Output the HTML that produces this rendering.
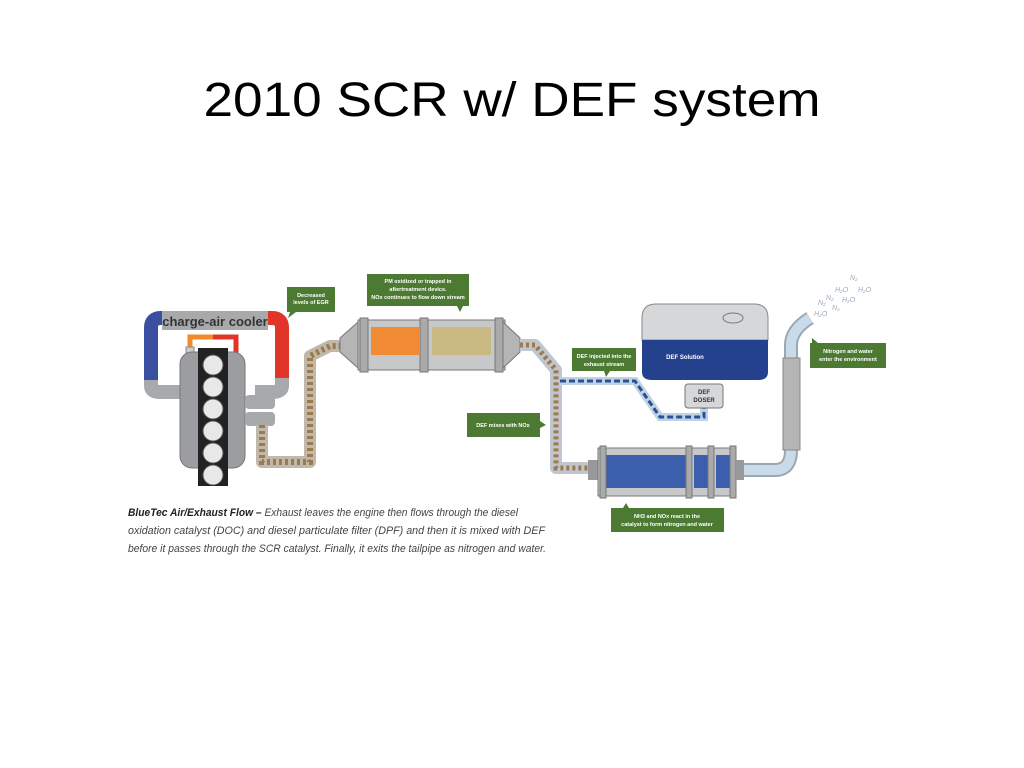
<!DOCTYPE html>
<html><head><meta charset="utf-8"><style>
html,body{margin:0;padding:0;background:#fff;width:1024px;height:768px;overflow:hidden}
svg{display:block}
</style></head><body>
<svg width="1024" height="768" viewBox="0 0 1024 768" font-family="Liberation Sans, sans-serif">
<text x="512" y="116" font-size="48" text-anchor="middle" fill="#000" textLength="617" lengthAdjust="spacingAndGlyphs">2010 SCR w/ DEF system</text>

<!-- charge air cooler -->
<path d="M151 384 V328 Q151 318 161 318 H272 Q282 318 282 328 V384" fill="none" stroke="#a7a9ab" stroke-width="14"/>
<path d="M151 384 V328 Q151 318 161 318 H165" fill="none" stroke="#3b4fa0" stroke-width="14"/>
<path d="M268 318 H272 Q282 318 282 328 V380" fill="none" stroke="#e2352a" stroke-width="14"/>
<rect x="162" y="311" width="106" height="19" fill="#a7a9ab"/>
<text x="215" y="326" font-size="13" font-weight="bold" text-anchor="middle" fill="#333">charge-air cooler</text>
<path d="M151 380 V386 Q151 392 160 392 H190" fill="none" stroke="#a7a9ab" stroke-width="14"/>
<path d="M282 378 V386 Q282 392 272 392 H255" fill="none" stroke="#a7a9ab" stroke-width="14"/>
<!-- EGR -->
<path d="M190 355 V337 H236 V355" fill="none" stroke="#f08a2c" stroke-width="5"/>
<path d="M213 337 H236 V355" fill="none" stroke="#e2352a" stroke-width="5"/>
<rect x="186" y="347" width="8" height="8" fill="#ccc" stroke="#888"/>
<!-- engine -->
<rect x="180" y="352" width="65" height="116" rx="12" fill="#9b9da0" stroke="#777"/>
<rect x="198" y="348" width="30" height="138" fill="#222"/>
<g fill="#e8e8e8" stroke="#555">
<circle cx="213" cy="365" r="10"/><circle cx="213" cy="387" r="10"/><circle cx="213" cy="409" r="10"/>
<circle cx="213" cy="431" r="10"/><circle cx="213" cy="453" r="10"/><circle cx="213" cy="475" r="10"/>
</g>
<rect x="245" y="395" width="30" height="14" rx="4" fill="#a7a9ab"/>
<rect x="245" y="412" width="30" height="14" rx="4" fill="#a7a9ab"/>
<!-- exhaust pipe to DOC -->
<path d="M262 425 V462 H310 V356 L330 346 H340" fill="none" stroke="#bfb8ab" stroke-width="12" stroke-linejoin="round"/>
<path d="M262 425 V462 H310 V356 L330 346 H340" fill="none" stroke="#9c7a4c" stroke-width="6" stroke-dasharray="3 3"/>
<!-- DOC/DPF -->
<polygon points="340,338 358,322 358,368 340,352" fill="#b5b5b5" stroke="#777"/>
<rect x="358" y="320" width="147" height="50" fill="#c7c8ca" stroke="#777"/>
<rect x="371" y="327" width="48" height="28" fill="#f08a34"/>
<rect x="432" y="327" width="59" height="28" fill="#c9b982"/>
<rect x="420" y="318" width="8" height="54" fill="#aaa" stroke="#777"/>
<rect x="360" y="318" width="8" height="54" fill="#aaa" stroke="#777"/>
<rect x="495" y="318" width="8" height="54" fill="#aaa" stroke="#777"/>
<polygon points="503,322 520,338 520,352 503,368" fill="#b5b5b5" stroke="#777"/>
<!-- DPF to SCR pipe -->
<path d="M520 345 H535 L556 370 V468 H590" fill="none" stroke="#bfc6cf" stroke-width="12" stroke-linejoin="round"/>
<path d="M520 345 H535 L556 370 V468 H590" fill="none" stroke="#9c7a4c" stroke-width="5" stroke-dasharray="3 3"/>
<!-- DEF line -->
<path d="M560 381 H635 L660 417 H704 V405" fill="none" stroke="#bfd3e6" stroke-width="8"/>
<path d="M560 381 H635 L660 417 H704 V405" fill="none" stroke="#2e4f94" stroke-width="3" stroke-dasharray="6 3"/>
<!-- SCR -->
<rect x="588" y="460" width="12" height="20" fill="#999"/>
<rect x="598" y="448" width="138" height="48" fill="#c7c8ca" stroke="#777"/>
<rect x="606" y="455" width="80" height="33" fill="#3b5fad"/>
<rect x="694" y="455" width="16" height="33" fill="#3b5fad"/>
<rect x="716" y="455" width="14" height="33" fill="#3b5fad"/>
<rect x="600" y="446" width="6" height="52" fill="#aaa" stroke="#777"/>
<rect x="686" y="446" width="6" height="52" fill="#aaa" stroke="#777"/>
<rect x="708" y="446" width="6" height="52" fill="#aaa" stroke="#777"/>
<rect x="730" y="446" width="6" height="52" fill="#aaa" stroke="#777"/>
<rect x="736" y="460" width="8" height="20" fill="#999"/>
<!-- tailpipe -->
<path d="M744 470 H775 Q791 470 791 450 V345 Q791 330 810 318" fill="none" stroke="#9aa7b5" stroke-width="14"/>
<path d="M744 470 H775 Q791 470 791 450 V345 Q791 330 810 318" fill="none" stroke="#c9dbe9" stroke-width="10"/>
<rect x="783" y="358" width="17" height="92" fill="#b5b5b5" stroke="#888"/>
<g font-size="7" fill="#9ab" font-style="italic">
<text x="835" y="292">H₂O</text><text x="850" y="280">N₂</text><text x="858" y="292">H₂O</text>
<text x="826" y="300">N₂</text><text x="842" y="302">H₂O</text><text x="818" y="305">N₂</text><text x="832" y="310">N₂</text><text x="814" y="316">H₂O</text>
</g>
<!-- DEF tank -->
<path d="M642 340 V318 Q642 304 656 304 H754 Q768 304 768 318 V340 Z" fill="#d6d7d9" stroke="#888"/>
<path d="M642 340 H768 V372 Q768 380 758 380 H652 Q642 380 642 372 Z" fill="#23418d"/>
<ellipse cx="733" cy="318" rx="10" ry="5" fill="none" stroke="#777"/>
<text x="685" y="359" font-size="6" font-weight="bold" fill="#fff" text-anchor="middle">DEF Solution</text>
<rect x="685" y="384" width="38" height="24" rx="3" fill="#d6d7d9" stroke="#777"/>
<text x="704" y="394" font-size="6" font-weight="bold" fill="#333" text-anchor="middle">DEF</text>
<text x="704" y="402" font-size="6" font-weight="bold" fill="#333" text-anchor="middle">DOSER</text>

<!-- green callouts -->
<g fill="#4c7a33">
<rect x="287" y="287" width="48" height="25"/><polygon points="290,312 296,312 288,318"/>
<rect x="367" y="274" width="102" height="32"/><polygon points="457,306 463,306 460,312"/>
<rect x="572" y="348" width="64" height="23"/><polygon points="604,371 610,371 606,377"/>
<rect x="467" y="413" width="73" height="24"/><polygon points="540,421 540,428 546,425"/>
<rect x="611" y="508" width="113" height="24"/><polygon points="623,508 629,508 626,503"/>
<rect x="810" y="343" width="76" height="25"/><polygon points="812,343 818,343 812,338"/>
</g>
<g fill="#fff" font-size="5.5" font-weight="bold" text-anchor="middle">
<text x="311" y="297">Decreased</text><text x="311" y="304">levels of EGR</text>
<text x="418" y="283">PM oxidized or trapped in</text><text x="418" y="291">aftertreatment device.</text><text x="418" y="299">NOx continues to flow down stream</text>
<text x="604" y="358">DEF injected into the</text><text x="604" y="366">exhaust stream</text>
<text x="503" y="427">DEF mixes with NOx</text>
<text x="667" y="518">NH3 and NOx react in the</text><text x="667" y="526">catalyst to form nitrogen and water</text>
<text x="848" y="353">Nitrogen and water</text><text x="848" y="361">enter the environment</text>
</g>

<!-- caption -->
<g font-size="11" font-style="italic" fill="#444">
<text x="128" y="516" textLength="390" lengthAdjust="spacingAndGlyphs"><tspan font-weight="bold" fill="#222">BlueTec Air/Exhaust Flow –</tspan> Exhaust leaves the engine then flows through the diesel</text>
<text x="128" y="534" textLength="417" lengthAdjust="spacingAndGlyphs">oxidation catalyst (DOC) and diesel particulate filter (DPF) and then it is mixed with DEF</text>
<text x="128" y="552" textLength="418" lengthAdjust="spacingAndGlyphs">before it passes through the SCR catalyst.  Finally, it exits the tailpipe as nitrogen and water.</text>
</g>
</svg>
</body></html>
